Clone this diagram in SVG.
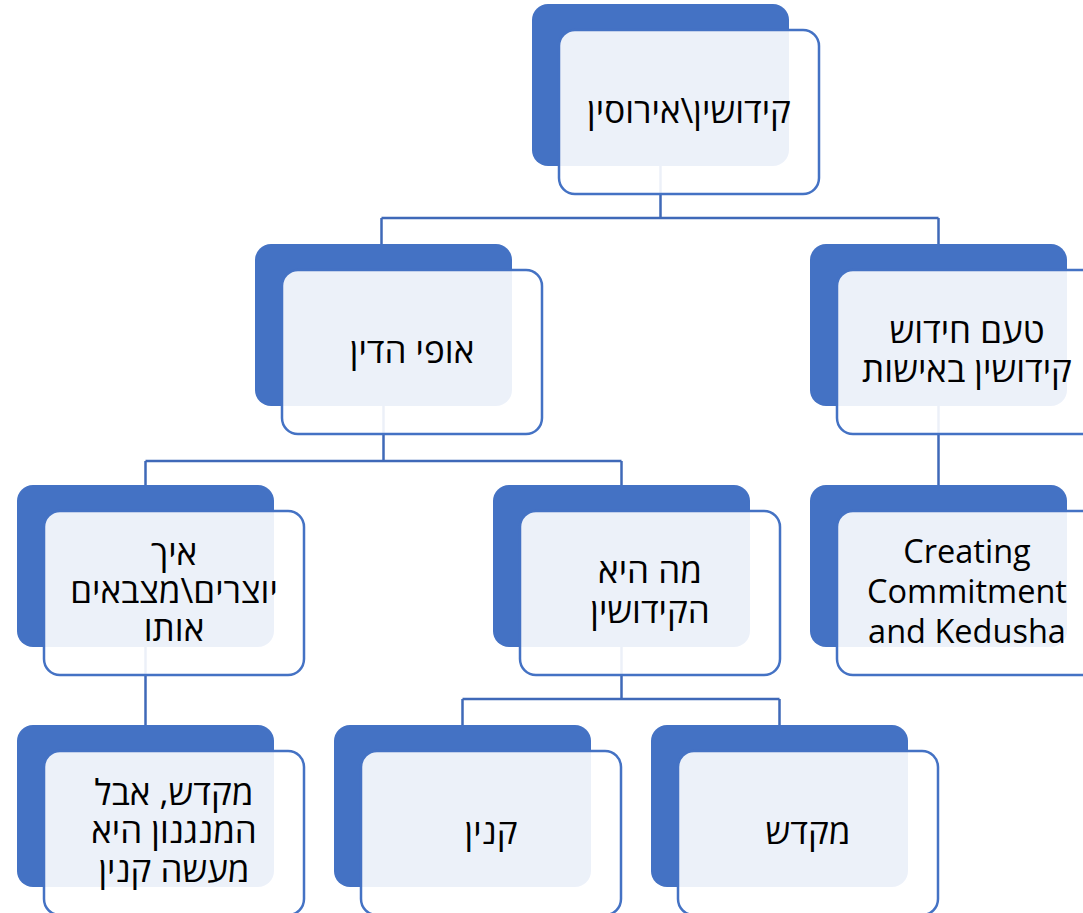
<svg xmlns="http://www.w3.org/2000/svg" width="1083" height="913" viewBox="0 0 1083 913">
<style>
.back{fill:#4472C4;}
.front{fill:#FFFFFF;fill-opacity:0.9;stroke:#4472C4;stroke-width:2.5;}
.conn{fill:none;stroke:#3F69B8;stroke-width:2.5;}
.t{font-family:"Open Sans","Liberation Sans","DejaVu Sans",sans-serif;font-size:32.5px;fill:#000;text-anchor:middle;}
.he{direction:rtl;unicode-bidi:embed;font-size:35px;}
</style>
<rect width="1083" height="913" fill="#FFFFFF"/>
<g id="connectors">
<path class="conn" d="M660.5,166 V218 M381.5,218 H938.5 M381.5,218 V244 M938.5,218 V244"/>
<path class="conn" d="M383.5,406 V461 M145.5,461 H621.5 M145.5,461 V485 M621.5,461 V485"/>
<path class="conn" d="M938.5,406 V485"/>
<path class="conn" d="M145.5,646 V725"/>
<path class="conn" d="M621.5,646 V699 M462.5,699 H779.5 M462.5,699 V725 M779.5,699 V725"/>
</g>
<g id="n1">
<rect class="back" x="532" y="4" width="257" height="162" rx="16"/>
<rect class="front" x="559" y="30" width="260" height="164" rx="16"/>
<text class="t he" x="689" y="123">קידושין\אירוסין</text>
</g>
<g id="n2">
<rect class="back" x="255" y="244" width="257" height="162" rx="16"/>
<rect class="front" x="282" y="270" width="260" height="164" rx="16"/>
<text class="t he" x="412" y="363">אופי הדין</text>
</g>
<g id="n3">
<rect class="back" x="810" y="244" width="257" height="162" rx="16"/>
<rect class="front" x="837" y="270" width="260" height="164" rx="16"/>
<text class="t he" x="967" y="343">טעם חידוש</text>
<text class="t he" x="967" y="382">קידושין באישות</text>
</g>
<g id="n4">
<rect class="back" x="17" y="485" width="257" height="162" rx="16"/>
<rect class="front" x="44" y="511" width="260" height="164" rx="16"/>
<text class="t he" x="174" y="565">איך</text>
<text class="t he" x="174" y="603">יוצרים\מצבאים</text>
<text class="t he" x="174" y="641">אותו</text>
</g>
<g id="n5">
<rect class="back" x="493" y="485" width="257" height="162" rx="16"/>
<rect class="front" x="520" y="511" width="260" height="164" rx="16"/>
<text class="t he" x="650" y="583">מה היא</text>
<text class="t he" x="650" y="623">הקידושין</text>
</g>
<g id="n6">
<rect class="back" x="810" y="485" width="257" height="162" rx="16"/>
<rect class="front" x="837" y="511" width="260" height="164" rx="16"/>
<text class="t" x="967" y="563">Creating</text>
<text class="t" x="967" y="603">Commitment</text>
<text class="t" x="967" y="643">and Kedusha</text>
</g>
<g id="n7">
<rect class="back" x="17" y="725" width="257" height="162" rx="16"/>
<rect class="front" x="44" y="751" width="260" height="164" rx="16"/>
<text class="t he" x="174" y="805">מקדש, אבל</text>
<text class="t he" x="174" y="843">המנגנון היא</text>
<text class="t he" x="174" y="882">מעשה קנין</text>
</g>
<g id="n8">
<rect class="back" x="334" y="725" width="257" height="162" rx="16"/>
<rect class="front" x="361" y="751" width="260" height="164" rx="16"/>
<text class="t he" x="491" y="844">קנין</text>
</g>
<g id="n9">
<rect class="back" x="651" y="725" width="257" height="162" rx="16"/>
<rect class="front" x="678" y="751" width="260" height="164" rx="16"/>
<text class="t he" x="808" y="844">מקדש</text>
</g>
</svg>
